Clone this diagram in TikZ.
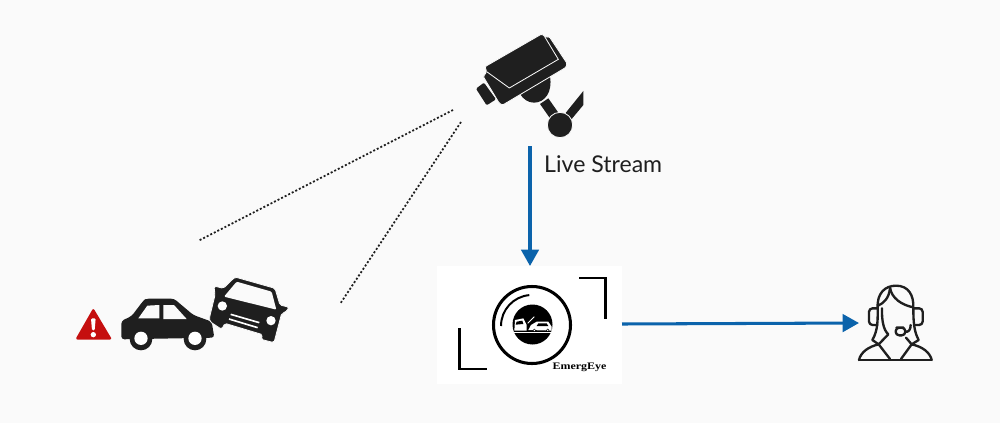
\documentclass[tikz,border=0pt]{standalone}
\usepackage{fontspec}
\setmainfont{Lato}
\newfontfamily\logofont{Liberation Serif}
\usetikzlibrary{arrows.meta}
\definecolor{bgc}{HTML}{FAFAFA}
\definecolor{icon}{HTML}{1F1F1F}
\definecolor{flow}{HTML}{0B63AB}
\definecolor{alert}{HTML}{C50F0F}
\tikzset{
  flowline/.style={draw=flow,line width=2.6pt,-{Triangle[length=14pt,width=15pt]}},
  sight/.style={draw=icon,line width=1.5pt,dash pattern=on 1.7pt off 1.7pt},
  solid icon/.style={fill=icon,draw=none},
  gap icon/.style={fill=icon,draw=bgc,line width=0.7pt,line join=round},
  agent/.style={draw=icon,line width=2pt,line join=round,line cap=round},
  logo/.style={draw=black,line width=2.6pt},
  zoomed/.style={scale=1/3}
}
\begin{document}
\begin{tikzpicture}[x=0.03cm,y=-0.03cm]
\path[fill=bgc] (0,0) rectangle (1000,423);
\useasboundingbox (0,0) rectangle (1000,423);

% connection points
\coordinate (camA) at (453,110);
\coordinate (camB) at (461,122);
\coordinate (crashA) at (198,241);
\coordinate (crashB) at (340,304);
\coordinate (camOut) at (530,146);
\coordinate (logoIn) at (530,266);
\coordinate (logoOut) at (622,324);
\coordinate (agentIn) at (859,323);

\draw[sight] (camA) -- (crashA);
\draw[sight] (camB) -- (crashB);

% camera
\begin{scope}[shift={(460,20)},zoomed]
  \path[solid icon] (170,200) -- (270,170) .. controls (278,215) and (255,248) .. (222,248) .. controls (205,248) and (190,238) .. (180,222) -- cycle;
  \path[solid icon] (240,252) -- (265,235) -- (300,285) -- (275,302) -- cycle;
  \path[solid icon] (370,213) -- (370,255) -- (335,297) -- (316,280) -- cycle;
  \path[gap icon] (300,315) circle[radius=38];
  \path[solid icon,rounded corners=1pt] (48,206) -- (72,188) -- (108,238) -- (80,256) -- cycle;
  \path[gap icon,rounded corners=1pt] (75,140) -- (245,42) -- (258,52) -- (268,50) -- (321,130) -- (318,142) -- (128,255) -- (118,250) -- (70,170) -- (80,155) -- cycle;
  \draw[bgc,line width=0.7pt,line join=miter] (254,50) -- (295,118) -- (148,204) -- (80,155);
\end{scope}

% crash
\begin{scope}[shift={(60,265)},zoomed]
  \path[fill=alert,draw=alert,line width=2pt,line join=round] (100,136) -- (150,220) -- (52,220) -- cycle;
  \path[fill=white,rounded corners=1pt] (93,160) -- (107,160) -- (104,196) -- (96,196) -- cycle;
  \path[fill=white] (100,209) circle[radius=8];

  \path[solid icon,rounded corners=2.5pt] (184,168) -- (215,153) -- (250,107) -- (258,101) -- (342,101) -- (400,150) -- (455,170) -- (463,218) -- (184,223) -- cycle;
  \path[fill=bgc] (235,160) -- (262,122) -- (298,120) -- (298,160) -- cycle;
  \path[fill=bgc] (310,120) -- (342,120) -- (380,162) -- (310,162) -- cycle;
  \path[solid icon] (243,222) circle[radius=34];
  \path[solid icon] (405,222) circle[radius=34];
  \path[fill=white] (243,220) circle[radius=20];
  \path[fill=white] (405,220) circle[radius=20];
\end{scope}
\begin{scope}[shift={(200,270)},zoomed]
  \path[fill=icon,draw=bgc,line width=0.7pt,rounded corners=1.5pt,line join=round] (28,145) -- (45,75) -- (42,48) -- (70,55) -- (105,21) -- (225,55) -- (240,105) -- (268,112) -- (255,128) -- (245,130) -- (222,218) -- (183,208) -- (188,194) -- (75,160) -- (65,178) -- (30,155) -- cycle;
  \path[fill=bgc,rounded corners=1pt] (72,80) -- (110,35) -- (215,65) -- (229,119) -- cycle;
  \path[fill=white] (67,108) circle[radius=14];
  \path[fill=white] (213,152) circle[radius=14];
  \draw[white,line width=1.4pt] (92,133) -- (178,158);
  \draw[white,line width=1.4pt] (87,147) -- (173,173);
\end{scope}

% logo
\path[fill=white] (437,266) rectangle (622,384);
\draw[logo] (532,325) circle[radius=38.5];
\path[fill=black] (532.5,324.5) circle[radius=20];
\draw[black,line width=1.7pt] (501,326) arc[start angle=180,end angle=265,radius=31];
\draw[logo,line width=2.3pt] (579,278) -- (605.7,278) -- (605.7,319);
\draw[logo,line width=2.3pt] (459.5,328) -- (459.5,369) -- (487,369);
\begin{scope}[shift={(505,300)},zoomed]
  \path[fill=white] (28,92) -- (30,60) -- (55,55) -- (65,75) -- (65,92) -- cycle;
  \path[fill=black] (35,65) -- (52,62) -- (55,72) -- (32,74) -- cycle;
  \path[fill=white] (70,90) -- (78,75) -- (95,65) -- (130,65) -- (140,80) -- (140,92) -- cycle;
  \path[fill=black] (100,70) -- (125,70) -- (130,78) -- (95,78) -- cycle;
  \draw[white,line width=0.7pt] (28,96) -- (140,96);
  \draw[white,line width=0.8pt] (68,70) -- (88,50);
  \path[fill=black] (88,91) circle[radius=5] (128,91) circle[radius=5];
  \path[fill=white] (88,91) circle[radius=2.5] (128,91) circle[radius=2.5];
\end{scope}
\node[font=\logofont\bfseries,text=black,xscale=1.02,yscale=0.85,inner sep=0] (brand) at (579.5,367) {EmergEye};

% agent
\begin{scope}[shift={(840,275)},zoomed]
  \draw[agent,rounded corners=3pt] (112,100) -- (87,100) -- (87,150) -- (112,150);
  \draw[agent,rounded corners=3pt] (222,100) -- (248,100) -- (248,150) -- (222,150);
  \draw[agent] (113,100) .. controls (110,55) and (135,32) .. (168,32) .. controls (205,32) and (222,60) .. (220,100);
  \draw[agent] (150,38) .. controls (148,70) and (130,85) .. (114,92);
  \draw[agent] (150,38) .. controls (155,70) and (185,90) .. (220,97);
  \draw[agent] (113,100) .. controls (113,130) and (115,165) .. (97,195) -- (116,208) -- (145,178) .. controls (130,165) and (125,135) .. (126,100);
  \draw[agent] (220,100) .. controls (220,140) and (222,170) .. (236,195) -- (215,208) -- (198,188);
  \draw[agent] (212,150) .. controls (212,165) and (205,172) .. (196,170);
  \draw[agent,rounded corners=3pt] (180,158) -- (196,158) -- (196,181) -- (167,181) -- (167,158) -- cycle;
  \draw[agent] (57,255) -- (275,255);
  \draw[agent] (57,255) .. controls (62,232) and (85,215) .. (116,208) -- (150,252);
  \draw[agent] (275,255) .. controls (270,232) and (247,215) .. (215,208) -- (183,252);
\end{scope}

% flow
\draw[flowline] (camOut) -- (logoIn);
\draw[flowline] (logoOut) -- (agentIn);
\node[font=\fontsize{19.7pt}{23pt}\selectfont,text=icon,anchor=west,inner sep=0] (live) at (544,164) {Live Stream};
\end{tikzpicture}
\end{document}
